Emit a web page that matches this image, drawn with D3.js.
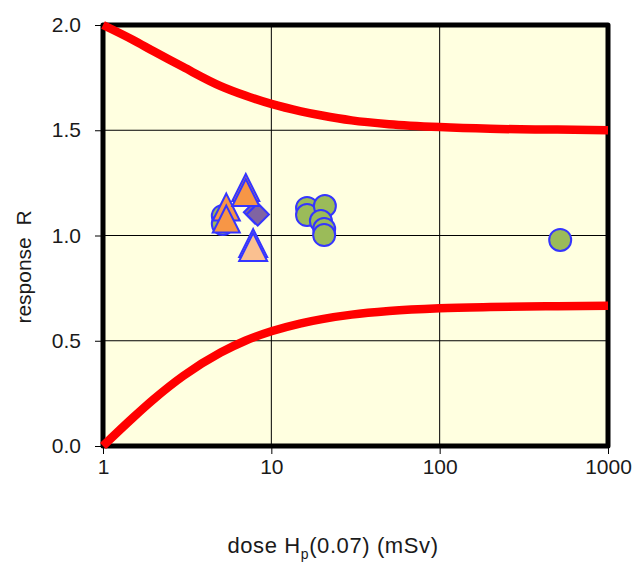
<!DOCTYPE html>
<html>
<head>
<meta charset="utf-8">
<script src="https://cdn.jsdelivr.net/npm/d3@7"></script>
<style>
  html, body { margin: 0; padding: 0; background: #ffffff; }
  svg { display: block; font-family: "Liberation Sans", Arial, sans-serif; }
</style>
</head>
<body>
<svg id="chart" width="634" height="563"></svg>
<script>
// Axis ticks
const xTicks = [1, 10, 100, 1000];
const yTicks = [0, 0.5, 1.0, 1.5, 2.0];

// Upper and lower response limits (trumpet curves)
const limitDose = [1, 1.5, 2, 3, 5, 7, 10, 15, 20, 30, 50, 100, 200, 500, 1000];
const upperR = [2.00, 1.93, 1.875, 1.80, 1.71, 1.665, 1.625, 1.59, 1.57, 1.547, 1.529, 1.515, 1.507, 1.503, 1.50];
const lowerR = [0.00, 0.133, 0.222, 0.333, 0.444, 0.50, 0.545, 0.583, 0.603, 0.624, 0.641, 0.654, 0.660, 0.664, 0.666];

// Measured responses
const circleDose = [5.15, 5.15, 16.3, 16.3, 20.8, 19.7, 20.6, 20.6, 520];
const circleR = [1.093, 1.055, 1.131, 1.097, 1.140, 1.069, 1.031, 1.002, 0.979];

const diamondDose = [8.0, 8.3];
const diamondR = [1.11, 1.10];

const triDose = [5.4, 5.4, 7.05, 7.05];
const triR = [1.135, 1.078, 1.228, 1.204];

const lightTriDose = [7.8, 7.8];
const lightTriR = [0.964, 0.945];

const svg = d3.select("#chart");
const plotL = 103, plotR = 608, plotT = 25, plotB = 446;

const x = d3.scaleLog().domain([1, 1000]).range([plotL, plotR]);
const y = d3.scaleLinear().domain([0, 2]).range([plotB, plotT]);

// Plot background
svg.append("rect")
  .attr("x", plotL).attr("y", plotT)
  .attr("width", plotR - plotL).attr("height", plotB - plotT)
  .attr("fill", "#FFFFE0");

// Grid lines
svg.append("g").selectAll("line")
  .data(xTicks.slice(1, -1)).join("line")
  .attr("x1", d => x(d)).attr("x2", d => x(d))
  .attr("y1", plotT).attr("y2", plotB)
  .attr("stroke", "#000").attr("stroke-width", 1);
svg.append("g").selectAll("line")
  .data(yTicks.slice(1, -1)).join("line")
  .attr("x1", plotL).attr("x2", plotR)
  .attr("y1", d => y(d)).attr("y2", d => y(d))
  .attr("stroke", "#000").attr("stroke-width", 1);

// Axes
const yAxis = svg.append("g")
  .attr("transform", `translate(${plotL},0)`)
  .call(d3.axisLeft(y).tickValues(yTicks).tickFormat(d3.format(".1f")).tickSize(8).tickPadding(14));
const xAxis = svg.append("g")
  .attr("transform", `translate(0,${plotB})`)
  .call(d3.axisBottom(x).tickValues(xTicks).tickFormat(d3.format("d")).tickSize(8).tickPadding(5));
[yAxis, xAxis].forEach(a => {
  a.select(".domain").remove();
  a.selectAll(".tick line").attr("stroke", "#000").attr("stroke-width", 1);
  a.selectAll(".tick text")
    .attr("fill", "#1a1a1a")
    .style("font-size", "21px")
    .style("font-family", "'Liberation Sans', Arial, sans-serif");
});

// Plot frame
svg.append("rect")
  .attr("x", plotL).attr("y", plotT)
  .attr("width", plotR - plotL).attr("height", plotB - plotT)
  .attr("fill", "none")
  .attr("stroke", "#000").attr("stroke-width", 5)
  .attr("stroke-linejoin", "round");

// Limit curves
const line = d3.line()
  .x(d => x(d[0])).y(d => y(d[1]))
  .curve(d3.curveMonotoneX);
[upperR, lowerR].forEach(vals => {
  svg.append("path")
    .datum(limitDose.map((d, i) => [d, vals[i]]))
    .attr("d", line)
    .attr("fill", "none")
    .attr("stroke", "#FF0000")
    .attr("stroke-width", 8.5);
});

const outline = "#3535FF";

// Circles
svg.append("g").selectAll("circle")
  .data(circleDose.map((d, i) => [d, circleR[i]])).join("circle")
  .attr("cx", d => x(d[0])).attr("cy", d => y(d[1]))
  .attr("r", 11)
  .attr("fill", "#9BBB59")
  .attr("stroke", outline).attr("stroke-width", 2);

// Diamonds
const diamond = d3.symbol().type(d3.symbolSquare).size(250);
svg.append("g").selectAll("path")
  .data(diamondDose.map((d, i) => [d, diamondR[i]])).join("path")
  .attr("d", diamond)
  .attr("transform", d => `translate(${x(d[0])},${y(d[1])}) rotate(45)`)
  .attr("fill", "#8064A2")
  .attr("stroke", outline).attr("stroke-width", 2);

// Triangle marker path centred on its bounding box
function triPath(cx, cy, h) {
  return `M${cx},${cy - h}L${cx + h},${cy + h}L${cx - h},${cy + h}Z`;
}

svg.append("g").selectAll("path")
  .data(triDose.map((d, i) => [d, triR[i]])).join("path")
  .attr("d", d => triPath(x(d[0]), y(d[1]), 13.5))
  .attr("fill", "#F79646")
  .attr("stroke", outline).attr("stroke-width", 2).attr("stroke-linejoin", "miter");

svg.append("g").selectAll("path")
  .data(lightTriDose.map((d, i) => [d, lightTriR[i]])).join("path")
  .attr("d", d => triPath(x(d[0]), y(d[1]), 14))
  .attr("fill", "#FAC090")
  .attr("stroke", outline).attr("stroke-width", 2).attr("stroke-linejoin", "miter");

// Axis titles
svg.append("text")
  .attr("transform", "translate(31,267) rotate(-90)")
  .attr("text-anchor", "middle")
  .attr("fill", "#1a1a1a")
  .style("font-size", "21px")
  .style("white-space", "pre")
  .text("response  R");

const xt = svg.append("text")
  .attr("x", 333).attr("y", 553)
  .attr("text-anchor", "middle")
  .attr("fill", "#1a1a1a")
  .style("font-size", "22px")
  .style("letter-spacing", "0.6px");
xt.append("tspan").text("dose H");
xt.append("tspan").attr("dy", 6).style("font-size", "14px").text("p");
xt.append("tspan").attr("dy", -6).text("(0.07) (mSv)");
</script>
</body>
</html>
